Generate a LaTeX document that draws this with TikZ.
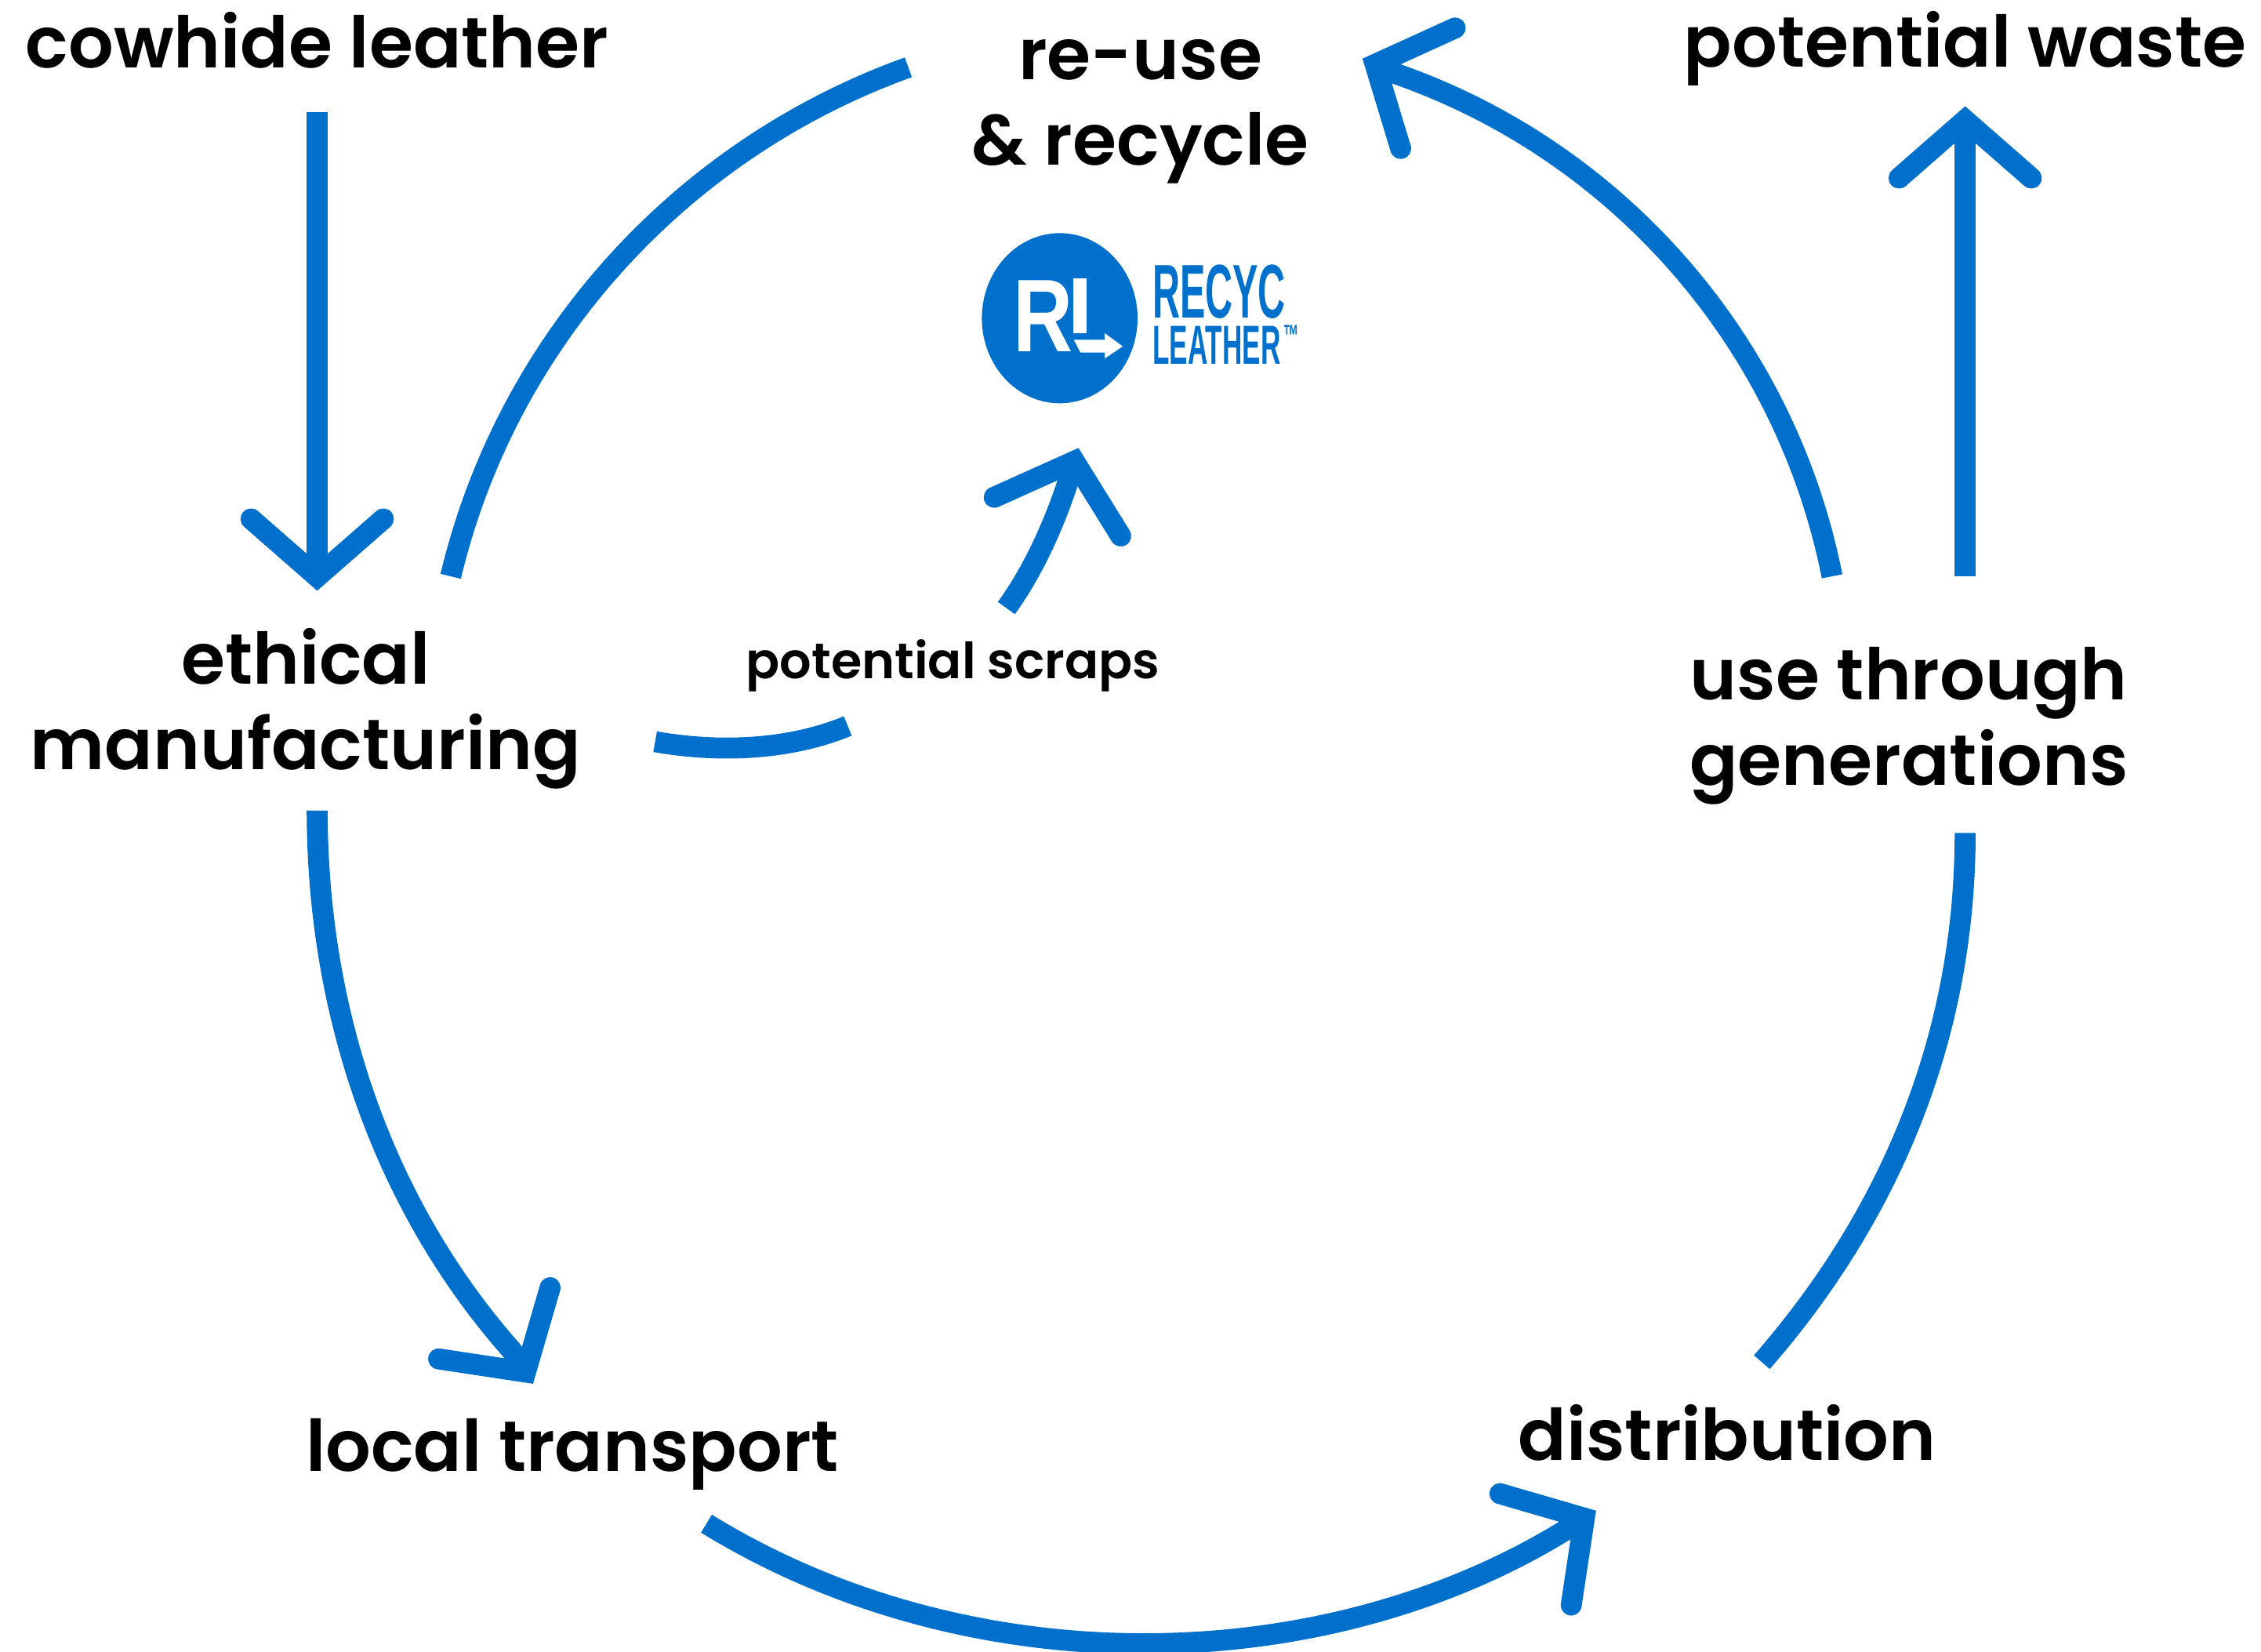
\documentclass[tikz,border=0pt]{standalone}
\usepackage{fontspec}
\setmainfont{Poppins SemiBold}
\newfontfamily\logofont[FakeStretch=0.5]{Liberation Sans Bold}
\newfontfamily\badgefont[FakeStretch=0.8]{Liberation Sans Bold}
\usetikzlibrary{arrows.meta}
\usetikzlibrary{shapes.geometric}
\definecolor{flowblue}{HTML}{0070CD}

\begin{document}
\begin{tikzpicture}[%
	x=0.01839cm, y=0.01839cm,
	base/.style={align=center, inner sep=2pt, font=\fontsize{25.8}{31}\selectfont},
	small/.style={base, font=\fontsize{18.1}{20}\selectfont},
	link/.style={draw=flowblue, line width=7.6pt},
	arrow/.style={link, -{Straight Barb[length=21pt, width=48pt, line cap=round, line join=miter]}}%
	]
	\useasboundingbox (0,0) rectangle (1568.2,1145.7);
	%
	% Nodes
	%
	\node[base] (COWHIDE) at (220,1118) {cowhide leather};
	\node[base] (REUSE) at (791,1068.5) {re-use\\ \& recycle};
	\node[base] (WASTE) at (1363,1112) {potential waste};
	\node[base] (MANUF) at (212,654) {ethical\\ manufacturing};
	\node[small] (SCRAPS) at (661,684) {potential scraps};
	\node[base] (GENERATIONS) at (1324,642) {use through\\ generations};
	\node[base] (TRANSPORT) at (397,137) {local transport};
	\node[base] (DISTRIB) at (1198,152) {distribution};
	%
	% Logo
	%
	\node[ellipse, fill=flowblue, minimum width=108*0.01839cm, minimum height=118*0.01839cm, inner sep=0pt] (LOGO) at (735,925) {};
	\node[white, inner sep=0pt, font=\badgefont\fontsize{37.5}{37.5}\selectfont] (LOGOR) at (723.5,926.5) {R};
	\fill[white] (744.3,952.4) rectangle (753.4,914.4);
	\fill[white] (744.8,910) -- (766.2,910) -- (766.2,914.6) -- (778.7,905.5) -- (766.2,897) -- (766.2,901.2) -- (749.4,901.2) -- cycle;
	\node[flowblue, anchor=west, align=left, inner sep=0pt, font=\logofont\fontsize{20}{16.7}\selectfont] (RECYC) at (799,927.5) {{\fontsize{27.6}{16.7}\selectfont RECYC}\\ LEATHER\hspace{1pt}\smash{\raisebox{6.5pt}{\fontsize{11}{11}\selectfont ™}}};
	%
	% Connectors
	%
	\draw[arrow] ([shift={(0,-50)}]COWHIDE.center) -- ([shift={(8,82)}]MANUF.center);
	\draw[link] ([shift={(-161,30.5)}]REUSE.center) to[out=199.8, in=76.6, looseness=0.907] ([shift={(100.6,92)}]MANUF.center);
	\draw[arrow] ([shift={(8,-70.5)}]MANUF.center) to[out=-90, in=131.5, looseness=0.88] ([shift={(-42,72)}]TRANSPORT.center) -- ([shift={(-27.3,49)}]TRANSPORT.center);
	\draw[arrow] ([shift={(93,-48)}]TRANSPORT.center) to[out=-31.6, in=212.6, looseness=0.9] ([shift={(-91,-54)}]DISTRIB.center);
	\draw[link] ([shift={(24,49)}]DISTRIB.center) to[out=48.9, in=-90, looseness=0.9] ([shift={(39,-74)}]GENERATIONS.center);
	\draw[arrow] ([shift={(-53.3,104)}]GENERATIONS.center) to[out=101.2, in=-19.2, looseness=0.913] ([shift={(177,26.1)}]REUSE.center) -- ([shift={(154,36.5)}]REUSE.center);
	\draw[arrow] ([shift={(39,104)}]GENERATIONS.center) -- ([shift={(0,-40)}]WASTE.center);
	\draw[link] ([shift={(242.4,-22.7)}]MANUF.center) to[out=-10, in=202.4, looseness=0.85] ([shift={(-73,-41.8)}]SCRAPS.center);
	\draw[arrow] ([shift={(37,40)}]SCRAPS.center) to[out=54, in=-107, looseness=0.85] ([shift={(13,-90)}]LOGO.center);
\end{tikzpicture}
\end{document}
